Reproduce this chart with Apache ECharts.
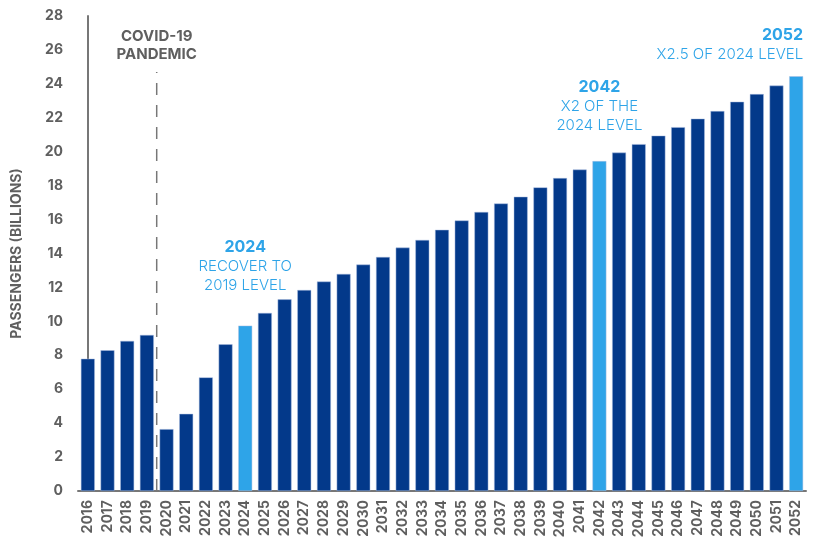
<!DOCTYPE html>
<html>
<head>
<meta charset="utf-8">
<script src="https://cdn.jsdelivr.net/npm/echarts@6/dist/echarts.min.js"></script>
<style>
html,body{margin:0;padding:0;background:#fff;}
#c{width:817px;height:541px;}
</style>
</head>
<body>
<div id="c"></div>
<script>
var years = ['2016','2017','2018','2019','2020','2021','2022','2023','2024','2025','2026','2027','2028','2029','2030','2031','2032','2033','2034','2035','2036','2037','2038','2039','2040','2041','2042','2043','2044','2045','2046','2047','2048','2049','2050','2051','2052'];
var passengers = [7.8,8.3,8.85,9.2,3.65,4.55,6.7,8.65,9.75,10.5,11.3,11.85,12.35,12.8,13.35,13.8,14.35,14.8,15.4,15.95,16.45,16.95,17.35,17.9,18.45,18.95,19.45,19.95,20.45,20.95,21.45,21.95,22.4,22.95,23.4,23.9,24.45];
var highlightYears = ['2024','2042','2052'];
var yTicks = [0,2,4,6,8,10,12,14,16,18,20,22,24,26,28];
var pandemicBoundary = [[3.5, 0], [3.5, 24.7]];
var annotations = [
  {x: '2024', y: 14.37, title: '2024', lines: ['RECOVER TO', '2019 LEVEL'], align: 'center'},
  {x: '2042', y: 23.8, title: '2042', lines: ['X2 OF THE', '2024 LEVEL'], align: 'center'},
  {x: '2052', y: 26.85, title: '2052', lines: ['X2.5 OF 2024 LEVEL'], align: 'right'}
];
var covidLabel = {x: 3.5, y: 26.8, lines: ['COVID-19', 'PANDEMIC']};

var DARK = '#03398A';
var LIGHT = '#2EA4E8';
var GREY = '#5f5f5f';
var FONT = 'Inter, "Open Sans", sans-serif';

var chart = echarts.init(document.getElementById('c'), null, {renderer: 'canvas'});
var option = {
  animation: false,
  backgroundColor: '#fff',
  grid: {left: 78, right: 11, top: 16, bottom: 50},
  xAxis: [{
    type: 'category',
    data: years,
    axisLine: {show: true, lineStyle: {color: '#777', width: 2}},
    axisTick: {show: false},
    axisLabel: {rotate: 90, margin: 9, color: GREY, fontFamily: FONT, fontWeight: 700, fontSize: 14, interval: 0}
  }, {
    type: 'value', min: -0.5, max: years.length - 0.5, show: false
  }],
  yAxis: {
    type: 'value', min: 0, max: 28, interval: 2,
    name: 'PASSENGERS (BILLIONS)',
    nameLocation: 'middle', nameGap: 54, nameRotate: 90,
    nameTextStyle: {color: GREY, fontFamily: FONT, fontWeight: 700, fontSize: 14},
    axisLine: {show: true, lineStyle: {color: '#777', width: 2}},
    axisTick: {show: false},
    splitLine: {show: false},
    axisLabel: {margin: 15, color: GREY, fontFamily: FONT, fontWeight: 700, fontSize: 14,
      formatter: function (v) { return yTicks.indexOf(v) >= 0 ? String(v) : ''; }}
  },
  series: [{
    type: 'bar',
    barWidth: 14,
    data: passengers.map(function (v, i) {
      return {value: v, itemStyle: {color: highlightYears.indexOf(years[i]) >= 0 ? LIGHT : DARK}};
    }),
    itemStyle: {borderColor: 'rgba(170,190,225,0.8)', borderWidth: 0.6}
  }, {
    type: 'line',
    xAxisIndex: 1,
    data: pandemicBoundary,
    symbol: 'none',
    lineStyle: {color: '#777', width: 1.5, type: [12, 10]},
    z: 5
  }]
};
chart.setOption(option);

function px(xAxisIndex, xv, yv) {
  return chart.convertToPixel({xAxisIndex: xAxisIndex, yAxisIndex: 0}, [xv, yv]);
}
var LH = 19;
var graphics = [];
annotations.forEach(function (a) {
  var p = px(0, a.x, a.y);
  var x = p[0];
  if (a.align === 'right') x += 7;
  graphics.push({type: 'text', x: x, y: p[1], style: {text: a.title, fill: LIGHT, font: '700 16px ' + FONT, textAlign: a.align, textVerticalAlign: 'middle'}});
  a.lines.forEach(function (t, k) {
    graphics.push({type: 'text', x: x, y: p[1] + LH * (k + 1), style: {text: t, fill: LIGHT, font: '300 15px ' + FONT, textAlign: a.align, textVerticalAlign: 'middle'}});
  });
});
(function () {
  var p = px(1, covidLabel.x, covidLabel.y);
  covidLabel.lines.forEach(function (t, k) {
    graphics.push({type: 'text', x: p[0], y: p[1] + 18.5 * k, style: {text: t, fill: GREY, font: '700 15px ' + FONT, textAlign: 'center', textVerticalAlign: 'middle'}});
  });
})();
chart.setOption({graphic: graphics});
</script>
</body>
</html>
